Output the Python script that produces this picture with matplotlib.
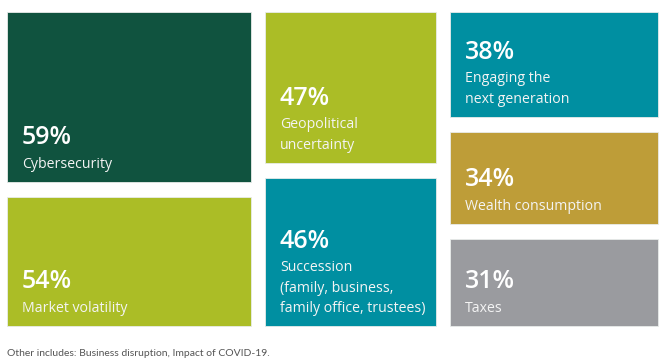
import matplotlib.pyplot as plt

# data
percents = [59, 54, 47, 46, 38, 34, 31]
labels = [
    "Cybersecurity",
    "Market volatility",
    "Geopolitical\nuncertainty",
    "Succession\n(family, business,\nfamily office, trustees)",
    "Engaging the\nnext generation",
    "Wealth consumption",
    "Taxes",
]
colors = ["#10533f", "#abbd26", "#abbd26", "#008fa1", "#008fa1", "#be9d38", "#9a9b9f"]
note = "Other includes: Business disruption, Impact of COVID-19."

# layout in pixels (left, top, width, height)
boxes = [
    (7, 12, 244, 170),
    (7, 197, 244, 129),
    (265, 12, 171, 151),
    (265, 178, 171, 148),
    (450, 12, 208, 105),
    (450, 132, 208, 92),
    (450, 239, 208, 87),
]

plt.rcParams["font.family"] = ["Open Sans", "DejaVu Sans"]

fig = plt.figure(figsize=(6.71, 3.64), dpi=100)
ax = fig.add_axes([0, 0, 1, 1])
ax.set_xlim(0, 671)
ax.set_ylim(364, 0)
ax.axis("off")

lefts = [b[0] for b in boxes]
tops = [b[1] for b in boxes]
widths = [b[2] for b in boxes]
heights = [b[3] for b in boxes]
ax.bar(lefts, heights, width=widths, bottom=tops, align="edge", color=colors,
       edgecolor="#e8ecea", linewidth=0.6)

for (x, y, w, h), p, lab in zip(boxes, percents, labels):
    n = lab.count("\n")
    base = y + h - 14
    ax.text(x + 15, base, lab, color="#f4f4f4", fontsize=10.2, va="baseline",
            ha="left", linespacing=1.5)
    ax.text(x + 15, base - n * 20 - 24, f"{p}%", color="white", fontsize=18,
            fontweight="semibold", va="baseline", ha="left")

ax.text(7, 356, note, color="#555555", fontsize=7.5, va="baseline", ha="left",
        family=["Lato", "DejaVu Sans"])

fig.savefig("out.png", dpi=100)
